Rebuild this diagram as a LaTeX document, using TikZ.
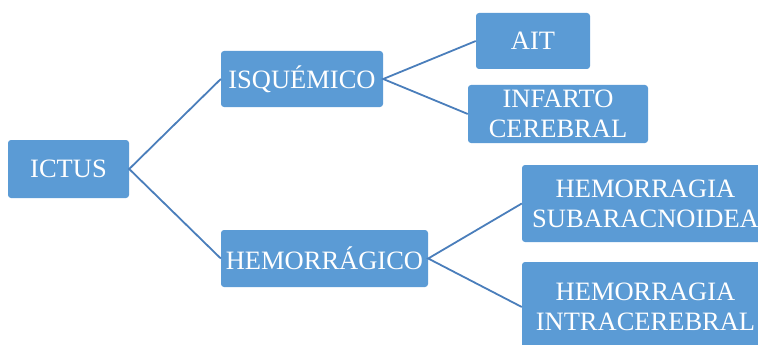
\documentclass[tikz,border=0pt]{standalone}
\usepackage{fontspec}
\setmainfont{Liberation Serif}
\usepackage{tikz}
\colorlet{box_fill}{rgb,255:red,91;green,155;blue,213}
\colorlet{box_line}{rgb,255:red,74;green,126;blue,187}
\tikzset{
    box/.style={fill=box_fill,draw=none,rounded corners=3pt,text=white,align=center,inner sep=0pt,font=\fontsize{26.5}{30}\selectfont},
    link/.style={draw=box_line,line width=1.8pt},
}

\begin{document}
\begin{tikzpicture}[x=1pt,y=-1pt]
  \useasboundingbox (0,0) rectangle (758,345);
  \clip (0,0) rectangle (758,345);
  \node[box,minimum width=121pt,minimum height=58pt] (ictus) at (68.5,169) {ICTUS};
  \node[box,minimum width=162pt,minimum height=56pt] (isq) at (302,79) {ISQUÉMICO};
  \node[box,minimum width=207pt,minimum height=57pt] (hem) at (324.5,258.5) {HEMORRÁGICO};
  \node[box,minimum width=114pt,minimum height=56pt] (ait) at (533,41) {AIT};
  \node[box,minimum width=180pt,minimum height=58pt] (infarto) at (558,114) {INFARTO\\CEREBRAL};
  \node[box,minimum width=247pt,minimum height=77pt] (hsa) at (645.5,203.5) {HEMORRAGIA\\SUBARACNOIDEA};
  \node[box,minimum width=247pt,minimum height=90pt] (hic) at (645.5,307) {HEMORRAGIA\\INTRACEREBRAL};
  \draw[link] (isq.west) -- (ictus.east) -- (hem.west);
  \draw[link] (ait.west) -- (isq.east) -- (infarto.west);
  \draw[link] (hsa.west) -- (hem.east) -- (hic.west);
\end{tikzpicture}
\end{document}
